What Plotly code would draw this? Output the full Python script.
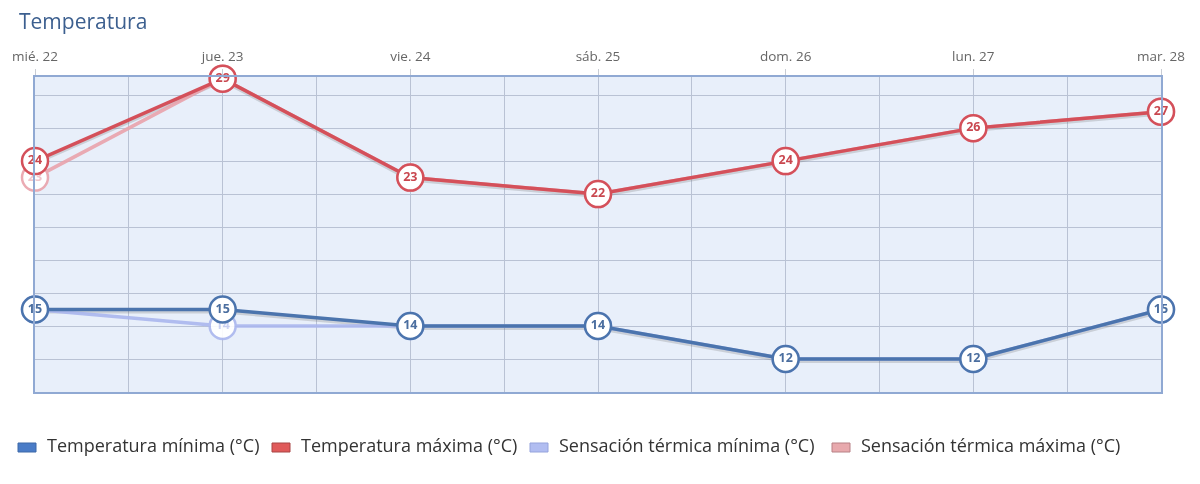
import plotly.graph_objects as go

days = ["mié. 22", "jue. 23", "vie. 24", "sáb. 25", "dom. 26", "lun. 27", "mar. 28"]
temp_min = [15, 15, 14, 14, 12, 12, 15]
temp_max = [24, 29, 23, 22, 24, 26, 27]
sens_min = [15, 14, 14, 14, 12, 12, 15]
sens_max = [23, 29, 23, 22, 24, 26, 27]

names = ["Temperatura mínima (°C)", "Temperatura máxima (°C)",
         "Sensación térmica mínima (°C)", "Sensación térmica máxima (°C)"]
title_text = "Temperatura"

x = list(range(len(days)))
FONT = "Open Sans"

# figure geometry (the page adds an 8px body margin)
W, H = 1192, 476
L, R, T, B = 27, 39, 69, 92
PW, PH = W - L - R, H - T - B


def px_x(page_x):
    return (page_x - 8 - L) / PW


def px_y(page_y):
    return (H - B - (page_y - 8)) / PH


fig = go.Figure()


def add_series(values, name, line_color, text_color, opacity):
    fig.add_trace(go.Scatter(
        x=x, y=values, name=name, mode="lines+markers+text",
        line=dict(color=line_color, width=3.5),
        marker=dict(size=26, color="white", line=dict(color=line_color, width=2.5)),
        text=[str(v) for v in values], textposition="middle center",
        textfont=dict(family=FONT, size=12.5, color=text_color, weight="bold"),
        opacity=opacity, showlegend=False, hoverinfo="skip",
        cliponaxis=False,
    ))


# soft shadows under the main lines
for vals in (temp_min, temp_max):
    fig.add_trace(go.Scatter(x=x, y=[v - 0.13 for v in vals], mode="lines",
                             line=dict(color="rgba(110,110,110,0.25)", width=3.5),
                             showlegend=False, hoverinfo="skip"))

add_series(sens_min, names[2], "#aab6ee", "#c9d0f3", 0.9)
add_series(sens_max, names[3], "#e9a2ab", "#efc0c6", 0.9)
add_series(temp_min, names[0], "#4b74ad", "#4b6e9f", 1.0)
add_series(temp_max, names[1], "#d4505a", "#c9474f", 1.0)

# legend drawn as boxes + labels (reference uses wide rectangular swatches)
legend_fill = ["#4a7cc7", "#e05a5a", "#b1bdf1", "#e8a9ad"]
legend_edge = ["#3d68a8", "#a94545", "#95a3dc", "#b88085"]
swatch_x = [18, 272, 530, 832]
shapes = []
annotations = [dict(text=title_text, xref="paper", yref="paper",
                    x=px_x(17), y=px_y(21), xanchor="left", yanchor="middle",
                    showarrow=False,
                    font=dict(family=FONT, size=21, color="#3c5f8f"))]
for i, n in enumerate(names):
    shapes.append(dict(type="rect", xref="paper", yref="paper",
                       x0=px_x(swatch_x[i]), x1=px_x(swatch_x[i] + 18),
                       y0=px_y(452), y1=px_y(443),
                       fillcolor=legend_fill[i], line=dict(color=legend_edge[i], width=1)))
    annotations.append(dict(text=n, xref="paper", yref="paper",
                            x=px_x(swatch_x[i] + 27), y=px_y(445),
                            xanchor="left", yanchor="middle", showarrow=False,
                            font=dict(family=FONT, size=18, color="#333333")))

fig.update_layout(
    width=W, height=H,
    margin=dict(l=L, r=R, t=T, b=B, autoexpand=False),
    paper_bgcolor="white", plot_bgcolor="#e8effa",
    font=dict(family=FONT, color="#333333"),
    showlegend=False,
    shapes=shapes,
    annotations=annotations,
)

fig.update_xaxes(
    range=[0, len(days) - 1], side="top", automargin=False,
    tickmode="array", tickvals=x, ticktext=days,
    tickfont=dict(family=FONT, size=13.5, color="#666666"),
    ticks="outside", ticklen=6, tickcolor="#c8ccd4", ticklabelstandoff=3,
    showgrid=True, gridcolor="#b9c2d4", gridwidth=1,
    minor=dict(tickmode="array", tickvals=[i + 0.5 for i in x[:-1]],
               showgrid=True, gridcolor="#b9c2d4", ticks=""),
    showline=True, linecolor="#90a9d3", linewidth=2, mirror=True,
    zeroline=False, fixedrange=True,
)
fig.update_yaxes(
    range=[10, 29.1], dtick=2, tick0=10, showticklabels=False, automargin=False,
    showgrid=True, gridcolor="#b9c2d4", gridwidth=1,
    showline=True, linecolor="#90a9d3", linewidth=2, mirror=True,
    zeroline=False, fixedrange=True,
)

fig.write_html("out.html")
